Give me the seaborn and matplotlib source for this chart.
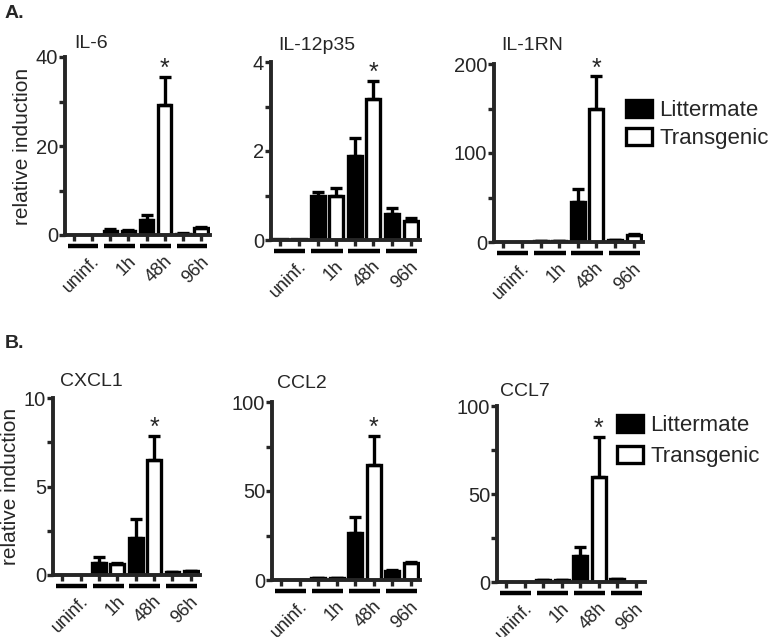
import numpy as np
import pandas as pd
import matplotlib
matplotlib.use("Agg")
import matplotlib.pyplot as plt
import matplotlib.transforms as mtransforms
from matplotlib.patches import Patch
import seaborn as sns

sns.set_theme(style="ticks")
plt.rcParams['font.family'] = ['Liberation Sans', 'DejaVu Sans']

timepoints = ["uninf.", "1h", "48h", "96h"]
genotypes = ["Littermate", "Transgenic"]

panel_names = ["IL-6", "IL-12p35", "IL-1RN", "CXCL1", "CCL2", "CCL7"]
panel_ymax = [40, 4, 200, 10, 100, 100]
panel_yticks = [[0, 20, 40], [0, 2, 4], [0, 100, 200], [0, 5, 10], [0, 50, 100], [0, 50, 100]]

# means: Littermate per timepoint, Transgenic per timepoint
il6_lit = [0.05, 1.0, 3.3, 0.3]
il6_tg = [0.05, 0.9, 29.2, 1.5]
il6_lit_err = [0.0, 0.3, 1.2, 0.1]
il6_tg_err = [0.0, 0.2, 6.4, 0.3]

il12_lit = [0.02, 0.99, 1.89, 0.58]
il12_tg = [0.02, 1.0, 3.17, 0.43]
il12_lit_err = [0.0, 0.08, 0.41, 0.13]
il12_tg_err = [0.0, 0.16, 0.40, 0.06]

il1rn_lit = [0.3, 1.0, 44.6, 2.0]
il1rn_tg = [0.3, 1.0, 150.0, 7.5]
il1rn_lit_err = [0.0, 0.2, 14.4, 0.3]
il1rn_tg_err = [0.0, 0.2, 36.0, 1.0]

cxcl1_lit = [0.02, 0.66, 2.07, 0.15]
cxcl1_tg = [0.02, 0.6, 6.5, 0.2]
cxcl1_lit_err = [0.0, 0.34, 1.08, 0.03]
cxcl1_tg_err = [0.0, 0.05, 1.35, 0.03]

ccl2_lit = [0.2, 1.0, 26.2, 5.2]
ccl2_tg = [0.2, 1.0, 64.6, 9.4]
ccl2_lit_err = [0.0, 0.2, 9.0, 0.5]
ccl2_tg_err = [0.0, 0.2, 16.3, 0.8]

ccl7_lit = [0.2, 1.0, 14.8, 1.5]
ccl7_tg = [0.2, 1.0, 59.5, 0.2]
ccl7_lit_err = [0.0, 0.2, 4.9, 0.2]
ccl7_tg_err = [0.0, 0.2, 23.1, 0.0]

panel_lit = [il6_lit, il12_lit, il1rn_lit, cxcl1_lit, ccl2_lit, ccl7_lit]
panel_tg = [il6_tg, il12_tg, il1rn_tg, cxcl1_tg, ccl2_tg, ccl7_tg]
panel_lit_err = [il6_lit_err, il12_lit_err, il1rn_lit_err, cxcl1_lit_err, ccl2_lit_err, ccl7_lit_err]
panel_tg_err = [il6_tg_err, il12_tg_err, il1rn_tg_err, cxcl1_tg_err, ccl2_tg_err, ccl7_tg_err]
star_index = 2  # 48h transgenic

W, H = 772, 637
fig = plt.figure(figsize=(W / 100, H / 100), dpi=100)

# axes boxes in pixel coordinates: left, right, zero-y, top-y
boxes = [(65, 210, 235, 57), (271, 420, 240, 62), (494, 643, 242, 64),
         (53, 200, 575, 398), (272, 420, 580, 402), (497, 645, 582, 406)]
title_pos = [(74, 43), (278, 45), (501, 45), (60, 382), (277, 384), (500, 391)]

LW = 2.4
for i, name in enumerate(panel_names):
    l, r, z, t = boxes[i]
    ax = fig.add_axes([l / W, 1 - z / H, (r - l) / W, (z - t) / H])
    df = pd.DataFrame({
        "time": timepoints * 2,
        "genotype": [genotypes[0]] * 4 + [genotypes[1]] * 4,
        "value": panel_lit[i] + panel_tg[i],
        "err": panel_lit_err[i] + panel_tg_err[i],
    })
    sns.barplot(data=df, x="time", y="value", hue="genotype", order=timepoints,
                hue_order=genotypes, palette=["black", "white"], width=1.0, gap=0.25,
                edgecolor="black", linewidth=LW, errorbar=None, legend=False, ax=ax,
                saturation=1)
    centers = []
    for cont, g in zip(ax.containers, genotypes):
        sub = df[df.genotype == g]
        xs = [p.get_x() + p.get_width() / 2 for p in cont.patches]
        centers += xs
        ys = sub["value"].to_numpy()
        es = sub["err"].to_numpy()
        mask = es > 0
        ax.errorbar(np.array(xs)[mask], ys[mask], yerr=[np.zeros(mask.sum()), es[mask]],
                    fmt="none", ecolor="black", elinewidth=LW, capsize=4, capthick=LW,
                    zorder=1)
        if g == "Transgenic":
            xs_star = xs[star_index]
            ys_star = ys[star_index] + es[star_index]
    ax.annotate("*", (xs_star, ys_star), xytext=(0, -3), textcoords="offset points",
                ha="center", va="bottom", fontsize=18, clip_on=False)
    ax.set_xlim(-0.5, 3.5)
    ax.set_ylim(0, panel_ymax[i])
    ax.set_yticks(panel_yticks[i])
    ax.set_yticks([(a + b) / 2 for a, b in zip(panel_yticks[i][:-1], panel_yticks[i][1:])], minor=True)
    ax.set_xticks(range(4))
    ax.set_xticklabels(timepoints, rotation=45, ha="right", rotation_mode="anchor")
    ax.set_xticks(sorted(centers), minor=True)
    ax.tick_params(axis="x", which="major", length=0, pad=13, labelsize=13)
    ax.tick_params(axis="x", which="minor", length=4, width=LW, direction="out")
    ax.tick_params(axis="y", which="both", length=4, width=LW, direction="out", labelsize=14.5, pad=1)
    shift = mtransforms.ScaledTranslation(0.08, 0, fig.dpi_scale_trans)
    for lab in ax.get_xticklabels():
        lab.set_transform(lab.get_transform() + shift)
    ax.set_xlabel("")
    ax.set_ylabel("")
    for s in ["top", "right"]:
        ax.spines[s].set_visible(False)
    for s in ["left", "bottom"]:
        ax.spines[s].set_linewidth(2.8)
    trans = mtransforms.offset_copy(ax.get_xaxis_transform(), fig=fig, x=0, y=-8, units="points")
    for k in range(4):
        ax.plot([k - 0.42, k + 0.42], [0, 0], color="black", lw=3.2, transform=trans,
                clip_on=False, solid_capstyle="butt")
    tx, ty = title_pos[i]
    fig.text(tx / W, 1 - ty / H, name, fontsize=14, ha="left", va="center")
    if i in (0, 3):
        ax.set_ylabel("relative induction", fontsize=15, labelpad=3)

fig.text(5 / W, 1 - 14 / H, "A.", fontsize=14, fontweight="bold", ha="left", va="center")
fig.text(5 / W, 1 - 344 / H, "B.", fontsize=14, fontweight="bold", ha="left", va="center")

handles = [Patch(facecolor="black", edgecolor="black", linewidth=LW, label="Littermate"),
           Patch(facecolor="white", edgecolor="black", linewidth=LW, label="Transgenic")]
for (lx, ly, sp) in [(626, 100, 0.3), (617, 415, 0.45)]:
    fig.legend(handles=handles, loc="upper left", bbox_to_anchor=(lx / W, 1 - ly / H),
               frameon=False, fontsize=16, handlelength=1.15, handleheight=0.8,
               handletextpad=0.35, labelspacing=sp, borderpad=0, borderaxespad=0)

fig.savefig("out.png", dpi=100)
